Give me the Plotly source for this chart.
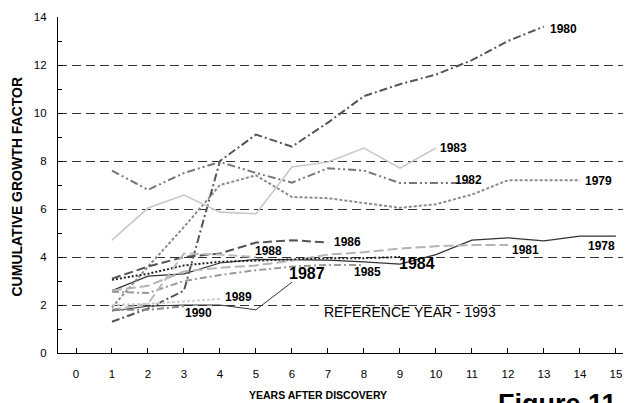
import plotly.graph_objects as go

# ---- data ----
years = ["1978", "1979", "1980", "1981", "1982", "1983", "1984",
         "1985", "1986", "1987", "1988", "1989", "1990"]
s1978 = [2.6, 3.2, 3.3, 3.75, 3.9, 3.9, 3.87, 3.8, 3.7, 4.1, 4.7, 4.8, 4.67, 4.87, 4.87]
s1979 = [1.9, 3.6, 5.25, 7.0, 7.4, 6.5, 6.45, 6.25, 6.05, 6.2, 6.6, 7.2, 7.2, 7.2]
s1980 = [1.3, 1.85, 2.6, 8.0, 9.1, 8.6, 9.6, 10.7, 11.2, 11.6, 12.2, 13.0, 13.6]
s1981 = [2.6, 2.8, 3.4, 3.55, 3.65, 3.85, 4.1, 4.2, 4.35, 4.45, 4.5, 4.5]
s1982 = [7.6, 6.8, 7.5, 7.96, 7.5, 7.1, 7.7, 7.6, 7.08, 7.08, 7.08]
s1983 = [4.7, 6.04, 6.58, 5.87, 5.8, 7.75, 7.96, 8.54, 7.7, 8.54]
s1984 = [3.05, 3.3, 3.65, 3.8, 3.85, 3.9, 3.95, 3.95, 4.0]
s1985 = [2.55, 2.5, 3.0, 3.25, 3.45, 3.6, 3.67, 3.67]
s1986 = [3.1, 3.6, 4.0, 4.15, 4.6, 4.7, 4.6]
s1987 = [1.75, 1.95, 2.0, 2.0, 1.8, 2.95]
s1988 = [1.8, 2.05, 4.15, 4.1, 4.0]
s1989 = [2.0, 2.05, 2.15, 2.25]
s1990 = [1.8, 1.8, 1.95]
series = [s1978, s1979, s1980, s1981, s1982, s1983, s1984,
          s1985, s1986, s1987, s1988, s1989, s1990]

x_ticks = list(range(0, 16))
y_ticks = [0, 2, 4, 6, 8, 10, 12, 14]

# label positions (data coords) and font sizes
label_x = [14.17, 14.08, 13.12, 12.06, 10.47, 10.05, 8.92, 7.67, 7.1, 5.86, 4.92, 4.08, 2.97]
label_y = [4.46, 7.17, 13.5, 4.29, 7.2, 8.54, 3.75, 3.37, 4.62, 3.33, 4.25, 2.33, 1.67]
label_size = [12, 12, 12, 12, 12, 12, 16, 12, 12, 16, 12, 12, 12]

# ---- styles ----
styles = {
    "1978": dict(color="#333333", width=1.2, dash="solid"),
    "1979": dict(color="#8c8c8c", width=2, dash="3px,2px"),
    "1980": dict(color="#555555", width=2, dash="8px,3px,2px,3px"),
    "1981": dict(color="#b4b4b4", width=2, dash="10px,4px"),
    "1982": dict(color="#777777", width=2, dash="8px,3px,2px,3px,2px,3px"),
    "1983": dict(color="#c8c8c8", width=1.6, dash="solid"),
    "1984": dict(color="#222222", width=2, dash="2px,2px"),
    "1985": dict(color="#9a9a9a", width=2, dash="7px,3px,2px,3px"),
    "1986": dict(color="#555555", width=2, dash="9px,4px"),
    "1987": dict(color="#333333", width=1, dash="solid"),
    "1988": dict(color="#bbbbbb", width=2, dash="9px,4px"),
    "1989": dict(color="#cccccc", width=2, dash="3px,2px"),
    "1990": dict(color="#888888", width=2, dash="7px,3px,2px,3px"),
}

fig = go.Figure()
for name, vals in zip(years, series):
    fig.add_trace(go.Scatter(
        x=list(range(1, len(vals) + 1)), y=vals, mode="lines",
        name=name, line=styles[name], showlegend=False, hoverinfo="skip"))

font_fam = "Liberation Sans, Arial, sans-serif"

# page offset of the figure (default body margin in the html page)
OFF = 8
PL, PR, PT, PB = 58, 631, 17, 353  # plot area in page pixels


def px_x(px):
    return (px - PL) / (PR - PL)


def px_y(py):
    return (PB - py) / (PB - PT)


anns = []
for name, lx, ly, fs in zip(years, label_x, label_y, label_size):
    anns.append(dict(x=lx, y=ly, xref="x", yref="y", text="<b>%s</b>" % name,
                     showarrow=False, xanchor="left", yanchor="middle",
                     font=dict(size=fs, color="black", family=font_fam)))

anns.append(dict(x=px_x(322), y=px_y(312), xref="paper", yref="paper",
                 text="REFERENCE YEAR - 1993", showarrow=False, xanchor="left",
                 yanchor="middle", font=dict(size=14, color="black", family=font_fam)))
anns.append(dict(x=px_x(318), y=px_y(395), xref="paper", yref="paper",
                 text="<b>YEARS AFTER DISCOVERY</b>", showarrow=False, xanchor="center",
                 yanchor="middle", font=dict(size=10.5, color="black", family=font_fam)))
anns.append(dict(x=px_x(16.5), y=px_y(187), xref="paper", yref="paper",
                 text="<b>CUMULATIVE GROWTH FACTOR</b>", showarrow=False, textangle=-90,
                 xanchor="center", yanchor="middle",
                 font=dict(size=14, color="black", family=font_fam)))
anns.append(dict(x=px_x(496), y=px_y(387), xref="paper", yref="paper",
                 text="<b>Figure 11</b>", showarrow=False, xanchor="left",
                 yanchor="top", font=dict(size=27, color="black", family=font_fam)))

W, H = 631 - OFF, 403 - OFF
fig.update_layout(
    width=W, height=H,
    margin=dict(l=PL - OFF, r=W - (PR - OFF), t=PT - OFF, b=H - (PB - OFF)),
    paper_bgcolor="white", plot_bgcolor="white",
    annotations=anns,
    font=dict(family=font_fam, size=11.5, color="black"),
    xaxis=dict(range=[-0.5, 15.42], tickvals=x_ticks, ticktext=[str(v) for v in x_ticks],
               showgrid=False, zeroline=False, showline=True, linecolor="black",
               linewidth=1.2, ticks="inside", ticklen=5, tickcolor="black",
               ticklabelstandoff=10, tickfont=dict(size=11.5)),
    yaxis=dict(range=[0, 14], tickvals=y_ticks, showgrid=True, gridcolor="#333333",
               griddash="9px,5px", gridwidth=1, zeroline=False, showline=True,
               linecolor="black", linewidth=1.2, ticks="inside", ticklen=5,
               tickcolor="black", ticklabelstandoff=8, tickfont=dict(size=11.5),
               minor=dict(ticks="inside", ticklen=4, dtick=1, tickcolor="black",
                          showgrid=False)),
)

fig.write_html("out.html")
